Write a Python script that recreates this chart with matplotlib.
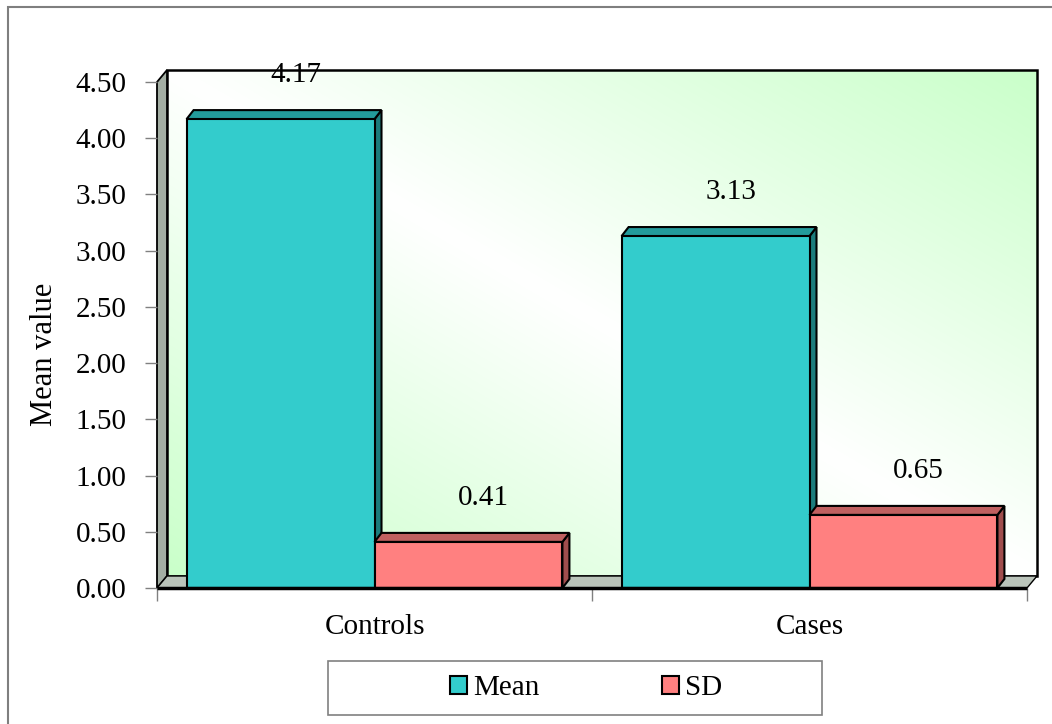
import matplotlib
matplotlib.use("Agg")
import matplotlib.pyplot as plt
import numpy as np
from matplotlib.patches import Polygon, Rectangle, Patch

plt.rcParams["font.family"] = ["Liberation Serif", "DejaVu Serif"]

# data
categories = ["Controls", "Cases"]
series_names = ["Mean", "SD"]
mean_values = [4.17, 3.13]
sd_values = [0.41, 0.65]
y_ticks = [0.0, 0.5, 1.0, 1.5, 2.0, 2.5, 3.0, 3.5, 4.0, 4.5]

# colours (front, top, side)
face_cols = {"Mean": ("#33CCCC", "#239B9B", "#1C7C7C"),
             "SD": ("#FF8080", "#C06060", "#A04D4D")}

FS = 21
W, H = 1052, 724
fig = plt.figure(figsize=(W / 100, H / 100), dpi=100)
fig.patch.set_facecolor("white")

# front plane of the plot
ax_l, ax_r, ax_t, ax_b = 157, 1027, 82, 588
ax = fig.add_axes([ax_l / W, 1 - ax_b / H, (ax_r - ax_l) / W, (ax_b - ax_t) / H])
ax.set_xlim(0, len(categories))
ax.set_ylim(0, y_ticks[-1])
ax.set_facecolor("none")
for s in ax.spines.values():
    s.set_visible(False)

# pixel -> data conversion for the 3D depth offsets
ppx = (ax_r - ax_l) / len(categories)
ppy = (ax_b - ax_t) / y_ticks[-1]
WX, WY = 10 / ppx, 12 / ppy      # wall depth
BX, BY = 7 / ppx, 9 / ppy        # bar depth
ymax = y_ticks[-1]
xmax = len(categories)

# back wall with diagonal gradient
n = 300
gx, gy = np.meshgrid(np.linspace(0, 1, n), np.linspace(0, 1, n))
f = np.abs(gx + gy - 1)
img = np.ones((n, n, 3))
img[..., 0] = 1 - 0.21 * f
img[..., 2] = 1 - 0.21 * f
im = ax.imshow(img, extent=(WX, xmax + WX, WY, ymax + WY), origin="lower",
               aspect="auto", zorder=0.5, interpolation="bilinear")
im.set_clip_on(False)
ax.add_patch(Rectangle((WX, WY), xmax, ymax, facecolor="none",
                       edgecolor="black", lw=1.8, zorder=0.6, clip_on=False))

# left wall and floor
ax.add_patch(Polygon([(0, 0), (0, ymax), (WX, ymax + WY), (WX, WY)],
                     closed=True, facecolor="#A3AEA3", edgecolor="black",
                     lw=1.3, zorder=0.7, clip_on=False))
ax.add_patch(Polygon([(0, 0), (xmax, 0), (xmax + WX, WY), (WX, WY)],
                     closed=True, facecolor="#BAC4BA", edgecolor="black",
                     lw=1.0, zorder=0.7, clip_on=False))

# bars
bar_w = 0.432
z = 1
for i, cat in enumerate(categories):
    c = i + 0.5
    for name, vals, x0 in (("Mean", mean_values, c - bar_w), ("SD", sd_values, c)):
        v = vals[i]
        front, top, side = face_cols[name]
        x1 = x0 + bar_w
        ax.add_patch(Polygon([(x1, 0), (x1, v), (x1 + BX, v + BY), (x1 + BX, BY)],
                             closed=True, facecolor=side, edgecolor="black",
                             lw=1.5, zorder=z, clip_on=False))
        ax.add_patch(Polygon([(x0, v), (x1, v), (x1 + BX, v + BY), (x0 + BX, v + BY)],
                             closed=True, facecolor=top, edgecolor="black",
                             lw=1.5, zorder=z, clip_on=False))
        ax.bar(x0, v, width=bar_w, align="edge", color=front, edgecolor="black",
               lw=1.5, zorder=z + 0.1, clip_on=False)
        ax.annotate(f"{v:.2f}", xy=(x0 + bar_w / 2 + BX, v + BY),
                    xytext=(6, 25), textcoords="offset points",
                    ha="center", va="center", fontsize=FS, zorder=10)
        z += 1

# floor front edge (x axis line)
ax.plot([0, xmax], [0, 0], color="black", lw=2.5, zorder=20, clip_on=False,
        solid_capstyle="butt")

# ticks
ax.set_yticks(y_ticks)
ax.set_yticklabels([f"{t:.2f}" for t in y_ticks])
ax.set_xticks(range(xmax + 1))
ax.set_xticklabels([])
ax.set_xticks([i + 0.5 for i in range(xmax)], minor=True)
ax.set_xticklabels(categories, minor=True)
ax.tick_params(axis="y", length=9, width=1, color="#808080", pad=13, labelsize=FS)
ax.tick_params(axis="x", which="major", length=9, width=1, color="#808080")
ax.tick_params(axis="x", which="minor", length=0, pad=19, labelsize=FS)

fig.text(45 / W, 1 - 354 / H, "Mean value", rotation=90, ha="center",
         va="center", fontsize=22)

# legend box
fig.patches.append(Rectangle((328 / W, 1 - 715 / H), (822 - 328) / W, (715 - 661) / H,
                             transform=fig.transFigure, facecolor="white",
                             edgecolor="#808080", lw=1.2))
handles = [Patch(facecolor=face_cols[s][0], edgecolor="black", lw=1.5)
           for s in series_names]
fig.legend(handles, series_names, loc="center",
           bbox_to_anchor=(586 / W, 1 - 688 / H), ncol=2, frameon=False,
           fontsize=FS, handlelength=0.58, handleheight=0.58, handletextpad=0.22,
           columnspacing=4.2, borderpad=0)

# outer chart border
fig.patches.append(Rectangle((8 / W, -0.1), 1.2, 1 - 7 / H + 0.1,
                             transform=fig.transFigure, facecolor="none",
                             edgecolor="#7F7F7F", lw=1.5))

fig.savefig("out.png", dpi=100)
